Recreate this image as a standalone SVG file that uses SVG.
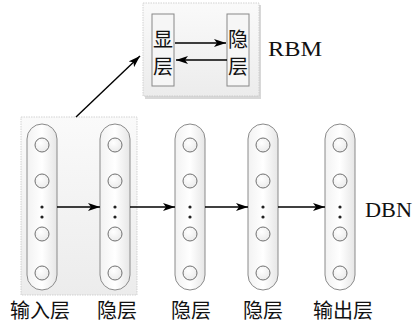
<svg xmlns="http://www.w3.org/2000/svg" width="413" height="321" viewBox="0 0 413 321">
<defs>
<linearGradient id="gbox" x1="0" y1="0" x2="0" y2="1"><stop offset="0" stop-color="#fafafa"/><stop offset="1" stop-color="#ececec"/></linearGradient>
<linearGradient id="gcap" x1="0" y1="0" x2="1" y2="0"><stop offset="0" stop-color="#f2f2f2"/><stop offset="0.5" stop-color="#ffffff"/><stop offset="1" stop-color="#e6e6e6"/></linearGradient>
<radialGradient id="gcir" cx="0.4" cy="0.35" r="0.75"><stop offset="0" stop-color="#ffffff"/><stop offset="1" stop-color="#e8e8e8"/></radialGradient>
<marker id="ah" viewBox="0 0 12 8" refX="12" refY="4" markerWidth="12" markerHeight="8" markerUnits="userSpaceOnUse" orient="auto"><path d="M0,0 L12,4 L0,8 L3,4 Z" fill="#000"/></marker>
<g id="col">
<rect x="-15" y="124" width="30" height="166" rx="15" fill="url(#gcap)" stroke="#8a8a8a" stroke-width="1"/>
<circle cx="0" cy="145" r="7" fill="url(#gcir)" stroke="#707070"/>
<circle cx="0" cy="181" r="7" fill="url(#gcir)" stroke="#707070"/>
<circle cx="0" cy="234" r="7" fill="url(#gcir)" stroke="#707070"/>
<circle cx="0" cy="273" r="7" fill="url(#gcir)" stroke="#707070"/>
<circle cx="0" cy="207" r="1.6" fill="#222"/>
<circle cx="0" cy="217" r="1.6" fill="#222"/>
</g>
</defs>
<style>
.cjk{font-family:"Liberation Serif","Noto Sans CJK SC",serif;font-size:20px;fill:#111;}
.lat{font-family:"Liberation Serif",serif;font-size:22px;fill:#111;}
.ln{stroke:#000;stroke-width:1.4;fill:none;}
</style>
<rect width="413" height="321" fill="#fff"/>
<g id="bg-group">
<rect x="21" y="117" width="116" height="178" fill="url(#gbox)" stroke="#c8c8c8" stroke-width="0.8" stroke-dasharray="1.5 1"/>
</g>
<g id="rbm">
<rect x="145" y="5" width="116" height="94" fill="#d8d8d8"/>
<rect x="143" y="3" width="116" height="93" fill="url(#gbox)" stroke="#c8c8c8" stroke-width="0.8" stroke-dasharray="1.5 1"/>
<g id="visible">
<rect x="152" y="14" width="22" height="72" fill="#f6f6f6" stroke="#888"/>
<text class="cjk" x="163" y="47" text-anchor="middle">显</text>
<text class="cjk" x="163" y="74" text-anchor="middle">层</text>
</g>
<g id="hidden">
<rect x="227" y="14" width="22" height="72" fill="#f6f6f6" stroke="#888"/>
<text class="cjk" x="238" y="47" text-anchor="middle">隐</text>
<text class="cjk" x="238" y="74" text-anchor="middle">层</text>
</g>
<text class="lat" x="268" y="56" textLength="54" lengthAdjust="spacingAndGlyphs">RBM</text>
</g>
<g id="layer1"><use href="#col" x="42"/><text class="cjk" x="40" y="318" text-anchor="middle">输入层</text></g>
<g id="layer2"><use href="#col" x="115"/><text class="cjk" x="117" y="318" text-anchor="middle">隐层</text></g>
<g id="layer3"><use href="#col" x="190"/><text class="cjk" x="191" y="318" text-anchor="middle">隐层</text></g>
<g id="layer4"><use href="#col" x="263"/><text class="cjk" x="263" y="318" text-anchor="middle">隐层</text></g>
<g id="layer5"><use href="#col" x="340"/><text class="cjk" x="343" y="318" text-anchor="middle">输出层</text></g>
<text class="lat" x="365" y="217" textLength="47" lengthAdjust="spacingAndGlyphs">DBN</text>
<g id="connectors">
<line class="ln" x1="175" y1="43" x2="226" y2="43" marker-end="url(#ah)"/>
<line class="ln" x1="227" y1="60" x2="176" y2="60" marker-end="url(#ah)"/>
<line class="ln" x1="76" y1="117" x2="140" y2="56" marker-end="url(#ah)"/>
<line class="ln" x1="57" y1="207" x2="100" y2="207" marker-end="url(#ah)"/>
<line class="ln" x1="130" y1="207" x2="175" y2="207" marker-end="url(#ah)"/>
<line class="ln" x1="205" y1="207" x2="248" y2="207" marker-end="url(#ah)"/>
<line class="ln" x1="278" y1="207" x2="325" y2="207" marker-end="url(#ah)"/>
</g>
</svg>
